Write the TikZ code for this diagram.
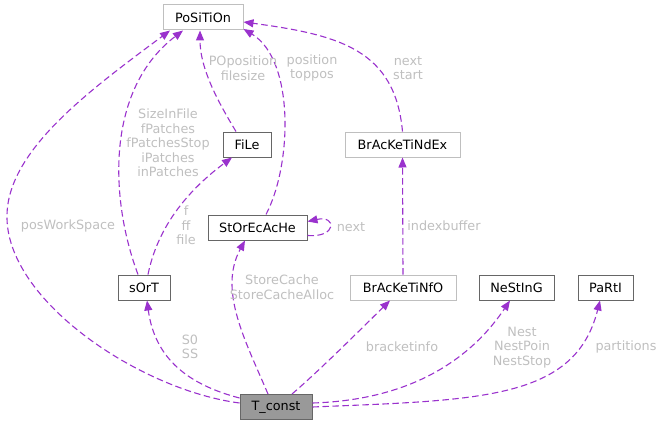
\documentclass[tikz,border=0pt]{standalone}
\usepackage{fontspec}
\setmainfont{DejaVu Sans}
\usetikzlibrary{arrows.meta}
\definecolor{edgec}{HTML}{9A32CD}
\definecolor{lblc}{HTML}{BFBFBF}
\definecolor{lightb}{HTML}{BFBFBF}
\definecolor{darkb}{HTML}{666666}
\begin{document}
\begin{tikzpicture}[x=1pt,y=-1pt,
  font=\fontsize{12.8}{14.5}\selectfont,
  cls/.style={draw=darkb,line width=1pt,fill=white,inner sep=0pt,minimum height=25pt},
  lcls/.style={cls,draw=lightb},
  edge/.style={draw=edgec,line width=1.1pt,dash pattern=on 6.5pt off 3.5pt,-{Triangle[length=10pt,width=8pt]}},
  lbl/.style={text=lblc,align=center,inner sep=0pt}]
\useasboundingbox (0,0) rectangle (663,425);
% nodes
\node[lcls,minimum width=80pt] (P) at (203,17.5) {PoSiTiOn};
\node[cls,minimum width=48pt] (F) at (247,144.5) {FiLe};
\node[lcls,minimum width=115pt] (BX) at (402.5,144.5) {BrAcKeTiNdEx};
\node[cls,minimum width=99pt] (S) at (257.5,227.5) {StOrEcAcHe};
\node[cls,minimum width=52pt] (O) at (144,287.5) {sOrT};
\node[lcls,minimum width=106pt] (BI) at (403,287.5) {BrAcKeTiNfO};
\node[cls,minimum width=75pt] (N) at (516.5,287.5) {NeStInG};
\node[cls,minimum width=55pt] (R) at (605.5,287.5) {PaRtI};
\node[cls,minimum width=72pt,fill=black!40] (T) at (276,407) {T\_const};
% edges
\draw[edge] ([yshift=4pt]T.west) .. controls (140,390) and (5,300) .. (7,215)
  .. controls (8,150) and (90,90) .. ([xshift=-33pt]P.south);
\draw[edge] ([xshift=-6pt]O.north) .. controls (110,200) and (105,90) .. ([xshift=-20pt]P.south);
\draw[edge] ([xshift=4pt]O.north) .. controls (155,240) and (175,200) .. ([xshift=-15pt]F.south);
\draw[edge] ([xshift=-11pt]F.north) .. controls (220,105) and (200,70) .. ([xshift=-3pt]P.south);
\draw[edge] ([xshift=8.5pt]S.north) .. controls (292,165) and (295,60) .. ([yshift=1.5pt]P.south east);
\draw[edge] (BX.north) .. controls (395,50) and (340,35) .. ([yshift=-4.5pt]P.east);
\draw[edge] ([yshift=-8pt]S.east) .. controls (337,238) and (337,215) .. ([yshift=6pt]S.east);
\draw[edge] (BI.north) -- (BX.south);
\draw[edge] ([yshift=9pt]T.west) .. controls (190,385) and (155,360) .. ([xshift=3pt]O.south);
\draw[edge] ([xshift=-8pt]T.north) .. controls (245,340) and (218,290) .. ([xshift=-12.5pt]S.south);
\draw[edge] ([xshift=16pt]T.north) .. controls (320,370) and (360,330) .. ([xshift=-13pt]BI.south);
\draw[edge] ([yshift=4pt]T.east) .. controls (410,400) and (470,360) .. ([xshift=-6.5pt]N.south);
\draw[edge] (T.east) .. controls (480,400) and (575,400) .. ([xshift=-5.5pt]R.south);
% labels
\node[lbl] (l1) at (68,226) {posWorkSpace};
\node[lbl] (l2) at (168,143) {SizeInFile\\fPatches\\fPatchesStop\\iPatches\\inPatches};
\node[lbl] (l3) at (186,225.5) {f\\ff\\file};
\node[lbl] (l4) at (243,68) {POposition\\filesize};
\node[lbl] (l5) at (312,68) {position\\toppos};
\node[lbl] (l6) at (408,68) {next\\start};
\node[lbl] (l7) at (351,227) {next};
\node[lbl] (l8) at (444,226) {indexbuffer};
\node[lbl] (l9) at (282,287) {StoreCache\\StoreCacheAlloc};
\node[lbl] (l10) at (190,347) {S0\\SS};
\node[lbl] (l11) at (402,347) {bracketinfo};
\node[lbl] (l12) at (522,347.5) {Nest\\NestPoin\\NestStop};
\node[lbl] (l13) at (626,347) {partitions};
\end{tikzpicture}
\end{document}
